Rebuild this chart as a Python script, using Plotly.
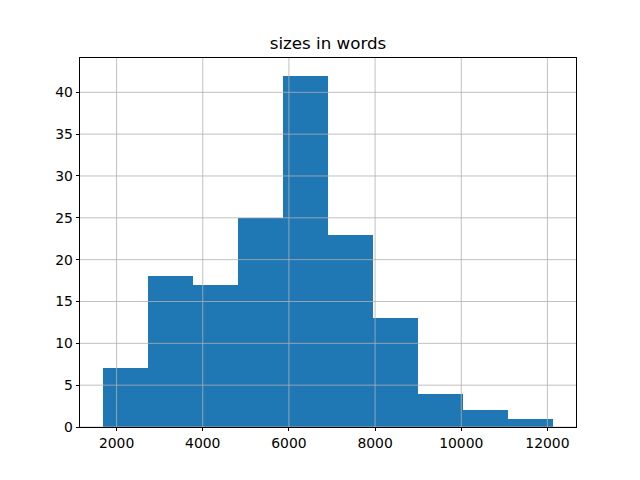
import plotly.graph_objects as go

bin_edges = [1674, 2721, 3768, 4814, 5861, 6908, 7954, 9001, 10048, 11094, 12140]
counts = [7, 18, 17, 25, 42, 23, 13, 4, 2, 1]
x_ticks = [2000, 4000, 6000, 8000, 10000, 12000]
y_ticks = [0, 5, 10, 15, 20, 25, 30, 35, 40]

centers = [(a + b) / 2 for a, b in zip(bin_edges[:-1], bin_edges[1:])]
widths = [b - a for a, b in zip(bin_edges[:-1], bin_edges[1:])]

fig = go.Figure(go.Bar(x=centers, y=counts, width=widths,
                       marker=dict(color="#1f77b4", line=dict(width=0))))

span = bin_edges[-1] - bin_edges[0]
xr = [bin_edges[0] - 0.05 * span, bin_edges[-1] + 0.05 * span]
yr = [0, max(counts) * 1.05]

axis_common = dict(showline=True, linecolor="black", linewidth=0.8, mirror=True,
                   ticks="outside", ticklen=3.5, tickwidth=0.8, tickcolor="black",
                   showgrid=False, zeroline=False, layer="above traces",
                   tickfont=dict(family="DejaVu Sans", size=13.9, color="black"))

shapes = []
for v in x_ticks:
    shapes.append(dict(type="line", xref="x", yref="paper", x0=v, x1=v, y0=0, y1=1,
                       line=dict(color="#b0b0b0", width=0.8), layer="above"))
for v in y_ticks:
    shapes.append(dict(type="line", xref="paper", yref="y", x0=0, x1=1, y0=v, y1=v,
                       line=dict(color="#b0b0b0", width=0.8), layer="above"))

fig.update_layout(
    width=640, height=480,
    margin=dict(l=72, r=72, t=50, b=61),
    paper_bgcolor="white", plot_bgcolor="white",
    title=dict(text="sizes in words", x=(72 + 248) / 640, xref="paper", xanchor="center",
               y=1 - 35 / 480, yanchor="middle",
               font=dict(family="DejaVu Sans", size=16.7, color="black")),
    xaxis=dict(range=xr, tickvals=x_ticks, ticktext=[str(v) for v in x_ticks], **axis_common),
    yaxis=dict(range=yr, tickvals=y_ticks, ticktext=[str(v) for v in y_ticks], **axis_common),
    shapes=shapes,
    bargap=0, showlegend=False,
)

fig.write_html("out.html")
